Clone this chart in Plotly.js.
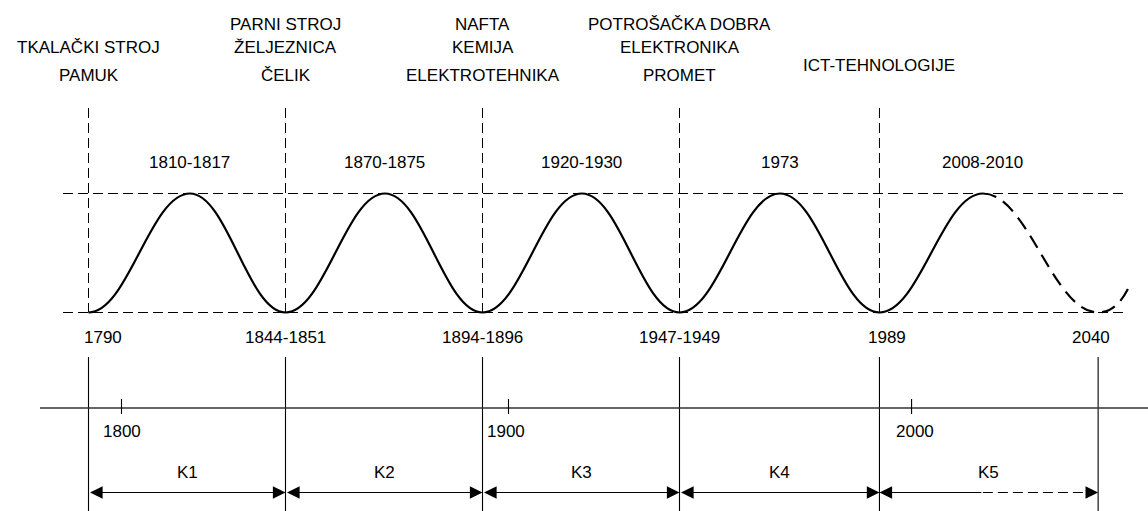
<!DOCTYPE html>
<html><head><meta charset="utf-8">
<script src="https://cdn.plot.ly/plotly-3.0.1.min.js"></script>
<style>html,body{margin:0;padding:0;background:#fff}</style>
</head><body><div id="chart" style="width:1148px;height:511px"></div>
<script>
// ---------- DATA ----------
const cycleNames = ['K1', 'K2', 'K3', 'K4', 'K5'];
const troughLabels = ['1790', '1844-1851', '1894-1896', '1947-1949', '1989', '2040'];
const troughPos = [0, 1, 2, 3, 4.015, 5.125];        // schematic position of each trough
const peakLabels = ['1810-1817', '1870-1875', '1920-1930', '1973', '2008-2010'];
const peakPos = [0.515, 1.505, 2.505, 3.51, 4.54];  // schematic position of each peak
const innovations = [
  ['TKALAČKI STROJ', 'PAMUK'],
  ['PARNI STROJ', 'ŽELJEZNICA', 'ČELIK'],
  ['NAFTA', 'KEMIJA', 'ELEKTROTEHNIKA'],
  ['POTROŠAČKA DOBRA', 'ELEKTRONIKA', 'PROMET'],
  ['ICT-TEHNOLOGIJE']
];
const yearTicks = ['1800', '1900', '2000'];
const yearTickPos = [0.1675, 2.132, 4.178];
const troughLevel = 0;
const peakLevel = 1;
const forecastEndPos = 5.28;
const forecastEndLevel = 0.21;

// ---------- LAYOUT HELPERS (pixel -> axis units) ----------
const W = 1148, H = 511;
const X0 = 88.5, XS = 197, Y0 = 312.5, YS = 119;
const ux = px => (px - X0) / XS;
const uy = px => (Y0 - px) / YS;
const FONT = {family: 'Arial, "Liberation Sans", sans-serif', size: 17, color: '#000'};

const shapes = [];
const annotations = [];

// horizontal dashed reference lines (trough and peak level)
[troughLevel, peakLevel].forEach(l => shapes.push({
  type: 'line', xref: 'x', yref: 'y', x0: ux(63), x1: ux(1128), y0: l, y1: l,
  line: {color: '#000', width: 1, dash: '10px,5px'}
}));
// vertical dashed lines at troughs (except forecast)
troughPos.slice(0, 5).forEach(p => shapes.push({
  type: 'line', xref: 'x', yref: 'y', x0: p, x1: p, y0: uy(108), y1: troughLevel,
  line: {color: '#000', width: 1, dash: '10px,5px'}
}));

// wave path built from extremes
const K = 0.39;
function seg(x0, y0, x1, y1) {
  const dx = x1 - x0;
  return ` C ${x0 + K * dx},${y0} ${x1 - K * dx},${y1} ${x1},${y1}`;
}
let solid = `M ${troughPos[0]},${troughLevel}`;
for (let i = 0; i < peakPos.length; i++) {
  solid += seg(troughPos[i], troughLevel, peakPos[i], peakLevel);
  if (i < peakPos.length - 1) solid += seg(peakPos[i], peakLevel, troughPos[i + 1], troughLevel);
}
shapes.push({type: 'path', xref: 'x', yref: 'y', path: solid, line: {color: '#000', width: 2.2}});
let dashed = `M ${peakPos[4]},${peakLevel}` + seg(peakPos[4], peakLevel, troughPos[5], troughLevel) +
  ` Q ${troughPos[5] + 0.6 * (forecastEndPos - troughPos[5])},${troughLevel} ${forecastEndPos},${forecastEndLevel}`;
shapes.push({type: 'path', xref: 'x', yref: 'y', path: dashed, line: {color: '#000', width: 2.2, dash: '14px,8px'}});

// solid vertical lines at troughs (lower part)
troughPos.forEach(p => shapes.push({
  type: 'line', xref: 'x', yref: 'y', x0: p, x1: p, y0: uy(357), y1: uy(H + 2),
  line: {color: '#000', width: 1.1}
}));
// time axis
shapes.push({type: 'line', xref: 'x', yref: 'y', x0: ux(40), x1: ux(W + 2), y0: uy(408), y1: uy(408),
  line: {color: '#333', width: 1.6}});
yearTickPos.forEach(p => shapes.push({
  type: 'line', xref: 'x', yref: 'y', x0: p, x1: p, y0: uy(399), y1: uy(414),
  line: {color: '#000', width: 1.1}
}));

// cycle arrows
const yA = uy(492.5);
const arrowBase = {xref: 'x', yref: 'y', axref: 'x', ayref: 'y', text: '', showarrow: true,
  arrowhead: 2, arrowsize: 2.3, arrowwidth: 1.1, arrowcolor: '#000', standoff: 0,
  startarrowhead: 2, startarrowsize: 2.3, startstandoff: 0};
for (let i = 0; i < 4; i++) {
  annotations.push(Object.assign({}, arrowBase, {x: troughPos[i + 1], y: yA, ax: troughPos[i], ay: yA, arrowside: 'end+start'}));
}
annotations.push(Object.assign({}, arrowBase, {x: troughPos[4], y: yA, ax: peakPos[4], ay: yA, arrowside: 'end'}));
shapes.push({type: 'line', xref: 'x', yref: 'y', x0: peakPos[4], x1: troughPos[5] - 0.03, y0: yA, y1: yA,
  line: {color: '#000', width: 1.1, dash: '10px,5px'}});
annotations.push(Object.assign({}, arrowBase, {x: troughPos[5], y: yA, ax: troughPos[5] - 0.05, ay: yA, arrowside: 'end'}));

// text helpers
function txt(x, y, t, xshift) {
  annotations.push({xref: 'x', yref: 'y', x: x, y: y, text: t, showarrow: false,
    xanchor: 'center', yanchor: 'middle', xshift: xshift || 0, font: FONT});
}
// innovation labels
innovations.forEach((lines, i) => {
  const rows = lines.length === 3 ? [24, 47, 75] : lines.length === 2 ? [47, 75] : [65];
  lines.forEach((t, j) => txt(troughPos[i], uy(rows[j]), t));
});
// peak labels
peakLabels.forEach((t, i) => txt(peakPos[i], uy(162), t));
// trough labels
const troughShift = [14, 0, 0, 0, 8, -7];
troughLabels.forEach((t, i) => txt(troughPos[i], uy(337), t, troughShift[i]));
// year ticks
const tickShift = [0, -3, 3];
yearTicks.forEach((t, i) => txt(yearTickPos[i], uy(431), t, tickShift[i]));
// cycle names
cycleNames.forEach((t, i) => txt((troughPos[i] + troughPos[i + 1]) / 2, uy(472), t));

const layout = {
  width: W, height: H,
  margin: {l: 0, r: 0, t: 0, b: 0},
  paper_bgcolor: '#fff', plot_bgcolor: '#fff',
  showlegend: false,
  xaxis: {range: [ux(0), ux(W)], visible: false, fixedrange: true},
  yaxis: {range: [uy(H), uy(0)], visible: false, fixedrange: true},
  shapes: shapes,
  annotations: annotations
};
Plotly.newPlot('chart', [{x: [], y: [], type: 'scatter', mode: 'lines', hoverinfo: 'skip'}], layout,
  {staticPlot: true, displayModeBar: false});
</script>
</body></html>
